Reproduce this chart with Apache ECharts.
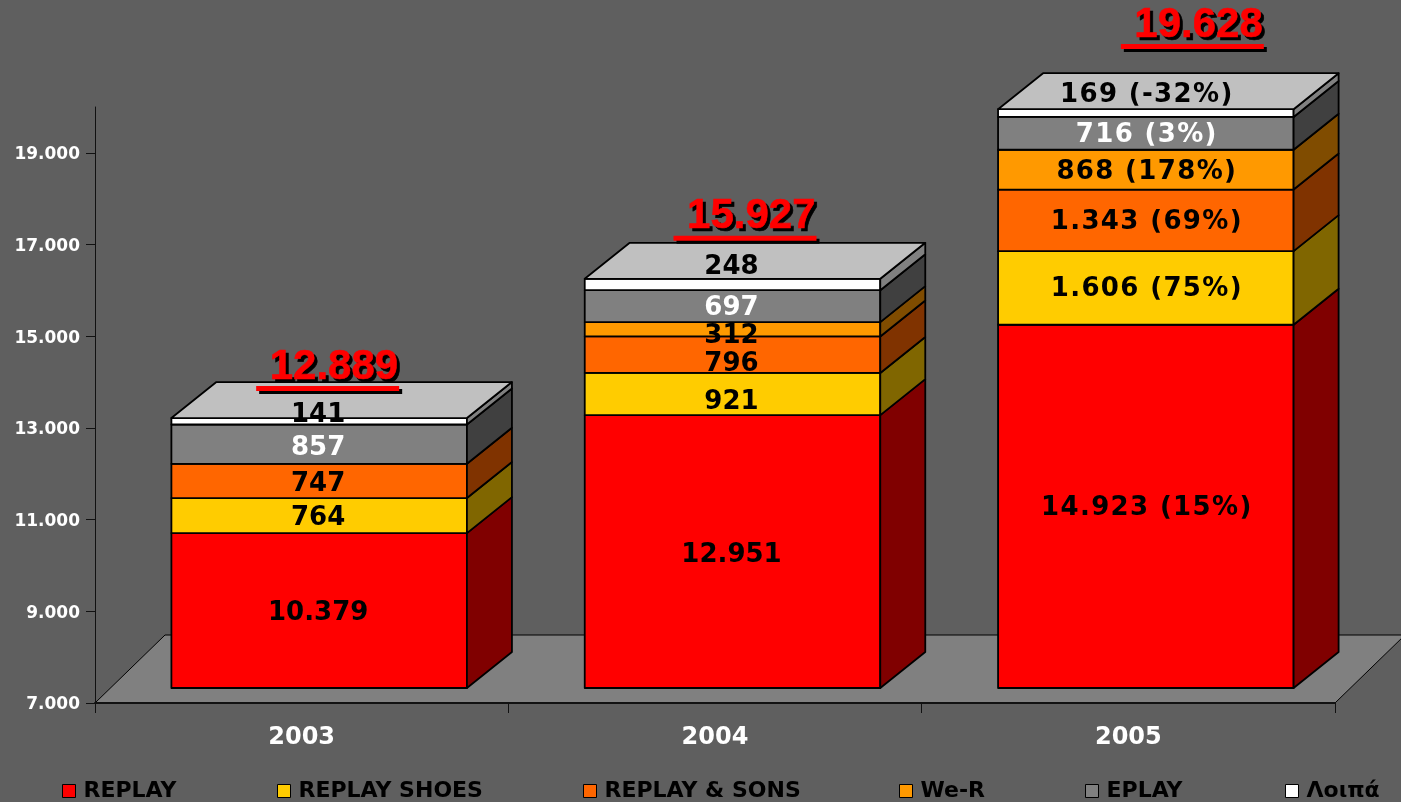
<!DOCTYPE html>
<html><head><meta charset="utf-8">
<style>html,body{margin:0;padding:0;background:#5f5f5f}#c{width:1401px;height:802px}</style>
<script src="https://cdn.jsdelivr.net/npm/echarts@6/dist/echarts.min.js"></script>
</head><body><div id="c"></div>
<script>
const years = ['2003','2004','2005'];
const yTicks = [7000,9000,11000,13000,15000,17000,19000];
const seriesNames = ['REPLAY','REPLAY SHOES','REPLAY & SONS','We-R','EPLAY','Λοιπά'];
const replay = [10379,12951,14923];
const replayShoes = [764,921,1606];
const replaySons = [747,796,1343];
const weR = [0,312,868];
const eplay = [857,697,716];
const others = [141,248,169];
const replayLabels = ['10.379','12.951','14.923 (15%)'];
const replayShoesLabels = ['764','921','1.606 (75%)'];
const replaySonsLabels = ['747','796','1.343 (69%)'];
const weRLabels = ['','312','868 (178%)'];
const eplayLabels = ['857','697','716 (3%)'];
const othersLabels = ['141','248','169 (-32%)'];
const totals = [12889,15927,19628];
const totalLabels = ['12.889','15.927','19.628'];

const values = [replay,replayShoes,replaySons,weR,eplay,others];
const labels = [replayLabels,replayShoesLabels,replaySonsLabels,weRLabels,eplayLabels,othersLabels];
const AXIS_MIN = 7000;

// styling
const FONT = '"DejaVu Sans"';
const frontColors = ['#ff0000','#ffcc00','#ff6600','#ff9900','#808080','#ffffff'];
const sideColors = ['#800000','#806600','#803300','#804c00','#404040','#808080'];
const labelColors = ['#000','#000','#000','#000','#fff','#000'];
const topColor = '#c0c0c0';
const shift = {x:17.5,y:-15}, depth = {x:45,y:36}, floorDepth = {x:70,y:68};
const barRatio = 0.715;
const legendLefts = [62,277,583,899,1085,1285];
// vertical label nudges [series][year], px
const labelDy = [[2.5,3.5,2],[2.5,8.5,1.5],[3,9.5,2],[0,6.5,3],[4.5,2,1.5],[-6,-17.5,-18]];
const totalDx = [80,84,118], totalDy = [-32,-43,-65];

function seg(params, api){
  const i = api.value(0), s = params.seriesIndex - 1;
  if (api.value(2) === api.value(1)) return null;
  const a = api.coord([i, api.value(1)]), b = api.coord([i, api.value(2)]);
  const w = api.size([1,0])[0] * barRatio;
  const l = a[0] + shift.x - w/2, r = l + w, yb = a[1] + shift.y, yt = b[1] + shift.y;
  const line = {stroke:'#000', lineWidth:1.8, lineJoin:'round'};
  const children = [
    {type:'rect', shape:{x:l,y:yt,width:w,height:yb-yt}, style:{fill:frontColors[s],...line}},
    {type:'polygon', shape:{points:[[r,yb],[r+depth.x,yb-depth.y],[r+depth.x,yt-depth.y],[r,yt]]}, style:{fill:sideColors[s],...line}}
  ];
  if (s === values.length-1) children.push({type:'polygon', shape:{points:[[l,yt],[l+depth.x,yt-depth.y],[r+depth.x,yt-depth.y],[r,yt]]}, style:{fill:topColor,...line}});
  return {type:'group', children};
}
function floor(params, api){
  const c = params.coordSys, x0 = c.x, x1 = c.x + c.width, y0 = c.y + c.height;
  return {type:'polygon', shape:{points:[[x0,y0],[x0+floorDepth.x,y0-floorDepth.y],[x1+floorDepth.x,y0-floorDepth.y],[x1,y0]]},
    style:{fill:'#808080',stroke:'#000',lineWidth:1}};
}
function valueLabel(params, api){
  const i = api.value(0), s = api.value(3);
  const m = api.coord([i, api.value(1)]);
  const long = labels[s][i].includes('(');
  return {type:'text', style:{text:labels[s][i], x:m[0]+shift.x+(long?1:-1), y:m[1]+shift.y+labelDy[s][i], align:'center', verticalAlign:'middle',
    font:'bold 26px '+FONT, fill:labelColors[s]}};
}
function totalLabel(params, api){
  const i = api.value(0);
  const p = api.coord([i, api.value(1)]);
  const xr = p[0]+shift.x+totalDx[i], yu = p[1]+shift.y+totalDy[i];
  const txt = (dx,col)=>({type:'text', style:{text:totalLabels[i], x:xr-1+dx, y:yu-19+dx, align:'right', verticalAlign:'middle',
      font:'bold 42px "Liberation Sans"', fill:col, stroke:col, lineWidth:0.6}});
  return {type:'group', children:[
    {type:'rect', shape:{x:xr-140,y:yu+3,width:143,height:5}, style:{fill:'#000'}},
    {type:'rect', shape:{x:xr-143,y:yu,width:143,height:5}, style:{fill:'#f00'}},
    txt(3,'#000'), txt(0,'#f00')
  ]};
}

const series = [{type:'custom', name:'floor', renderItem:floor, data:[[0]], z:1, silent:true, encode:{x:0}}];
values.forEach((v,s)=>{
  series.push({type:'custom', name:seriesNames[s], renderItem:seg, z:2,
    itemStyle:{color:frontColors[s], borderColor:'#000', borderWidth:1},
    encode:{x:0,y:[1,2]},
    data:v.map((val,i)=>{
      let st = 0; for(let k=0;k<s;k++) st+=values[k][i];
      return [i, s===0 ? AXIS_MIN : st, st+val];
    })});
});
const shortLab = [], longLab = [];
values.forEach((v,s)=>v.forEach((val,i)=>{ if(labels[s][i]){ let st=0; for(let k=0;k<s;k++) st+=values[k][i];
  (labels[s][i].includes('(') ? longLab : shortLab).push([i, s===0 ? (AXIS_MIN+val)/2 : st+val/2, val, s]); }}));
series.push({type:'custom', name:'labels', renderItem:valueLabel, z:6, silent:true, encode:{x:0,y:1}, data:shortLab});
series.push({type:'custom', name:'percentLabels', renderItem:valueLabel, zlevel:3, silent:true, encode:{x:0,y:1}, data:longLab});
series.push({type:'custom', name:'totals', renderItem:totalLabel, z:7, silent:true, encode:{x:0,y:1}, data:totals.map((t,i)=>[i,t])});

const chart = echarts.init(document.getElementById('c'), null, {renderer:'canvas'});
// the labels with a percentage are spaced a little wider than the rest
try { chart.getZr().painter.getLayer(3).ctx.letterSpacing = '1.35px'; } catch(e) {}
chart.setOption({
  animation:false,
  backgroundColor:'#5f5f5f',
  grid:{left:95,right:66,top:107,bottom:99},
  legend:seriesNames.map((n,i)=>({left:legendLefts[i],top:780,padding:0,itemWidth:13,itemHeight:13,
    itemStyle:{borderColor:'#000',borderWidth:1},icon:'rect',
    data:[n], selectedMode:false,
    textStyle:{fontFamily:FONT,fontWeight:'bold',fontSize:22,color:'#000',padding:[0,0,0,3]}})),
  xAxis:{type:'category',data:years,z:10,
    axisLine:{lineStyle:{color:'#111',width:2}},
    axisTick:{show:true,length:10,lineStyle:{color:'#111',width:1}},
    axisLabel:{fontFamily:FONT,fontWeight:'bold',fontSize:24,color:'#fff',margin:23}},
  yAxis:{type:'value',min:AXIS_MIN,max:20000,interval:2000,z:10,
    axisLine:{show:true,lineStyle:{color:'#111',width:1}},
    axisTick:{show:true,length:9,lineStyle:{color:'#111',width:1},customValues:yTicks},
    splitLine:{show:false},
    axisLabel:{customValues:yTicks,fontFamily:FONT,fontWeight:'bold',fontSize:17,color:'#fff',margin:15,verticalAlign:'top',lineHeight:4,
      formatter:v=>String(v).replace(/\B(?=(\d{3})+$)/g,'.')}},
  series
});
</script></body></html>
